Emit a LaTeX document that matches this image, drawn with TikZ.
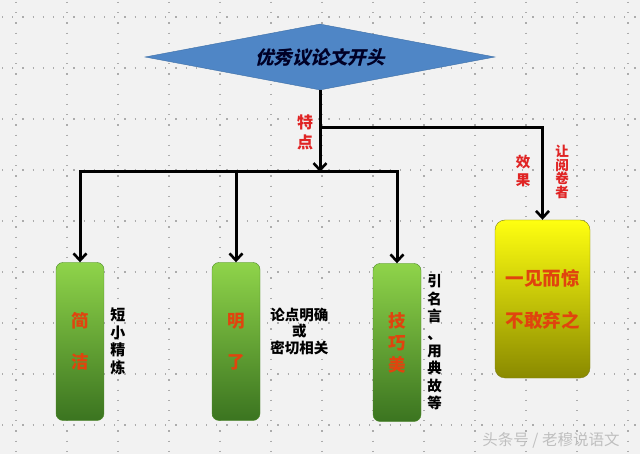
\documentclass[tikz,border=0pt]{standalone}
\usepackage{fontspec}
\usepackage{tikz}
\newfontfamily\cjk{Noto Sans CJK SC}
\newfontfamily\cjkslant[FakeSlant=0.25]{Noto Sans CJK SC}
\usetikzlibrary{positioning, shapes.geometric, arrows.meta}
\definecolor{bgray}{HTML}{F2F2F2}
\definecolor{diablue}{HTML}{4F86C6}
\definecolor{diaedge}{HTML}{3E6FA6}
\definecolor{gtop}{HTML}{8FD44A}
\definecolor{gbot}{HTML}{3B7420}
\definecolor{gedge}{HTML}{4E8A2A}
\definecolor{ytop}{HTML}{FFFF10}
\definecolor{ybot}{HTML}{8A8A00}
\definecolor{yedge}{HTML}{80801A}
\definecolor{boxred}{HTML}{E0440E}
\definecolor{labred}{HTML}{E02424}

\tikzset{
    griddots/.style={gray!65, line width=1.2pt, dash pattern=on 1.2pt off 9pt},
    diam/.style={draw=diaedge, fill=diablue, diamond, aspect=5.3, minimum width=350pt, minimum height=66pt, inner sep=0pt, text=black!85!blue},
    greenbox/.style={draw=gedge, rounded corners=7pt, top color=gtop, bottom color=gbot, minimum width=48pt, minimum height=158pt, inner sep=0pt, align=center, text=boxred, font=\cjk\bfseries\fontsize{17.5}{41}\selectfont},
    yellowbox/.style={draw=yedge, rounded corners=10pt, top color=ytop, bottom color=ybot, minimum width=95pt, minimum height=158pt, inner sep=0pt, align=center, text=boxred, font=\cjk\bfseries\fontsize{18.5}{42}\selectfont},
    note/.style={align=center, inner sep=0pt, font=\cjk\bfseries\fontsize{14.5}{17.4}\selectfont},
    redlabel/.style={align=center, inner sep=0pt, text=labred, font=\cjk\bfseries\fontsize{16}{20}\selectfont},
    wmark/.style={text=gray!50, inner sep=0pt, font=\cjk\fontsize{15.5}{18}\selectfont},
    link/.style={line width=3pt, line cap=rect},
    arr/.style={line width=3pt, -{Straight Barb[length=7pt, width=13pt, line width=2.6pt]}}
}

\begin{document}
\begin{tikzpicture}[x=1pt, y=-1pt]
    \fill[bgray] (0,0) rectangle (640,454);
    \useasboundingbox (0,0) rectangle (640,454);
    \foreach \gx in {16,67,...,628}
        \draw[griddots] (\gx,2) -- (\gx,452);
    \foreach \gy in {17,68,...,425}
        \draw[griddots] (2,\gy) -- (638,\gy);

    \node[diam] (1) at (320,57) {\cjkslant\bfseries\fontsize{18.5}{20}\selectfont 优秀议论文开头};
    \node[greenbox] (2) at (80,341.5) {简\\洁};
    \node[greenbox] (3) at (236,341.5) {明\\了};
    \node[greenbox, font=\cjk\bfseries\fontsize{17.5}{22}\selectfont] (4) at (397,342.5) {技\\巧\\美};
    \node[yellowbox] (5) at (542.5,299) {一见而惊\\不敢弃之};

    \node[note, right=6pt of 2, font=\cjk\bfseries\fontsize{15}{17.6}\selectfont] (6) {短\\小\\精\\炼};
    \node[note, right=10pt of 3, yshift=10pt, font=\cjk\bfseries\fontsize{14.5}{16.5}\selectfont] (7) {论点明确\\或\\密切相关};
    \node[note, right=6pt of 4] (8) {引\\名\\言\\、\\用\\典\\故\\等};

    \node[redlabel] (9) at (305,132) {特\\点};
    \node[redlabel, font=\cjk\bfseries\fontsize{14.5}{18}\selectfont] (10) at (523,171) {效\\果};
    \node[redlabel, font=\cjk\bfseries\fontsize{13.5}{13.7}\selectfont] (11) at (562,172) {让\\阅\\卷\\者};

    \node[wmark] (12) at (551,440) {头条号 / 老穆说语文};

    \coordinate (a) at (320,128);
    \coordinate (b) at (320,172);

    \draw[arr] (1.south) -- (b);
    \draw[link] (2.north |- b) -- (4.north |- b);
    \draw[arr] (2.north |- b) -- (2.north);
    \draw[arr] (3.north |- b) -- (3.north);
    \draw[arr] (4.north |- b) -- (4.north);
    \draw[arr] (a) -| (5.north);
\end{tikzpicture}
\end{document}
